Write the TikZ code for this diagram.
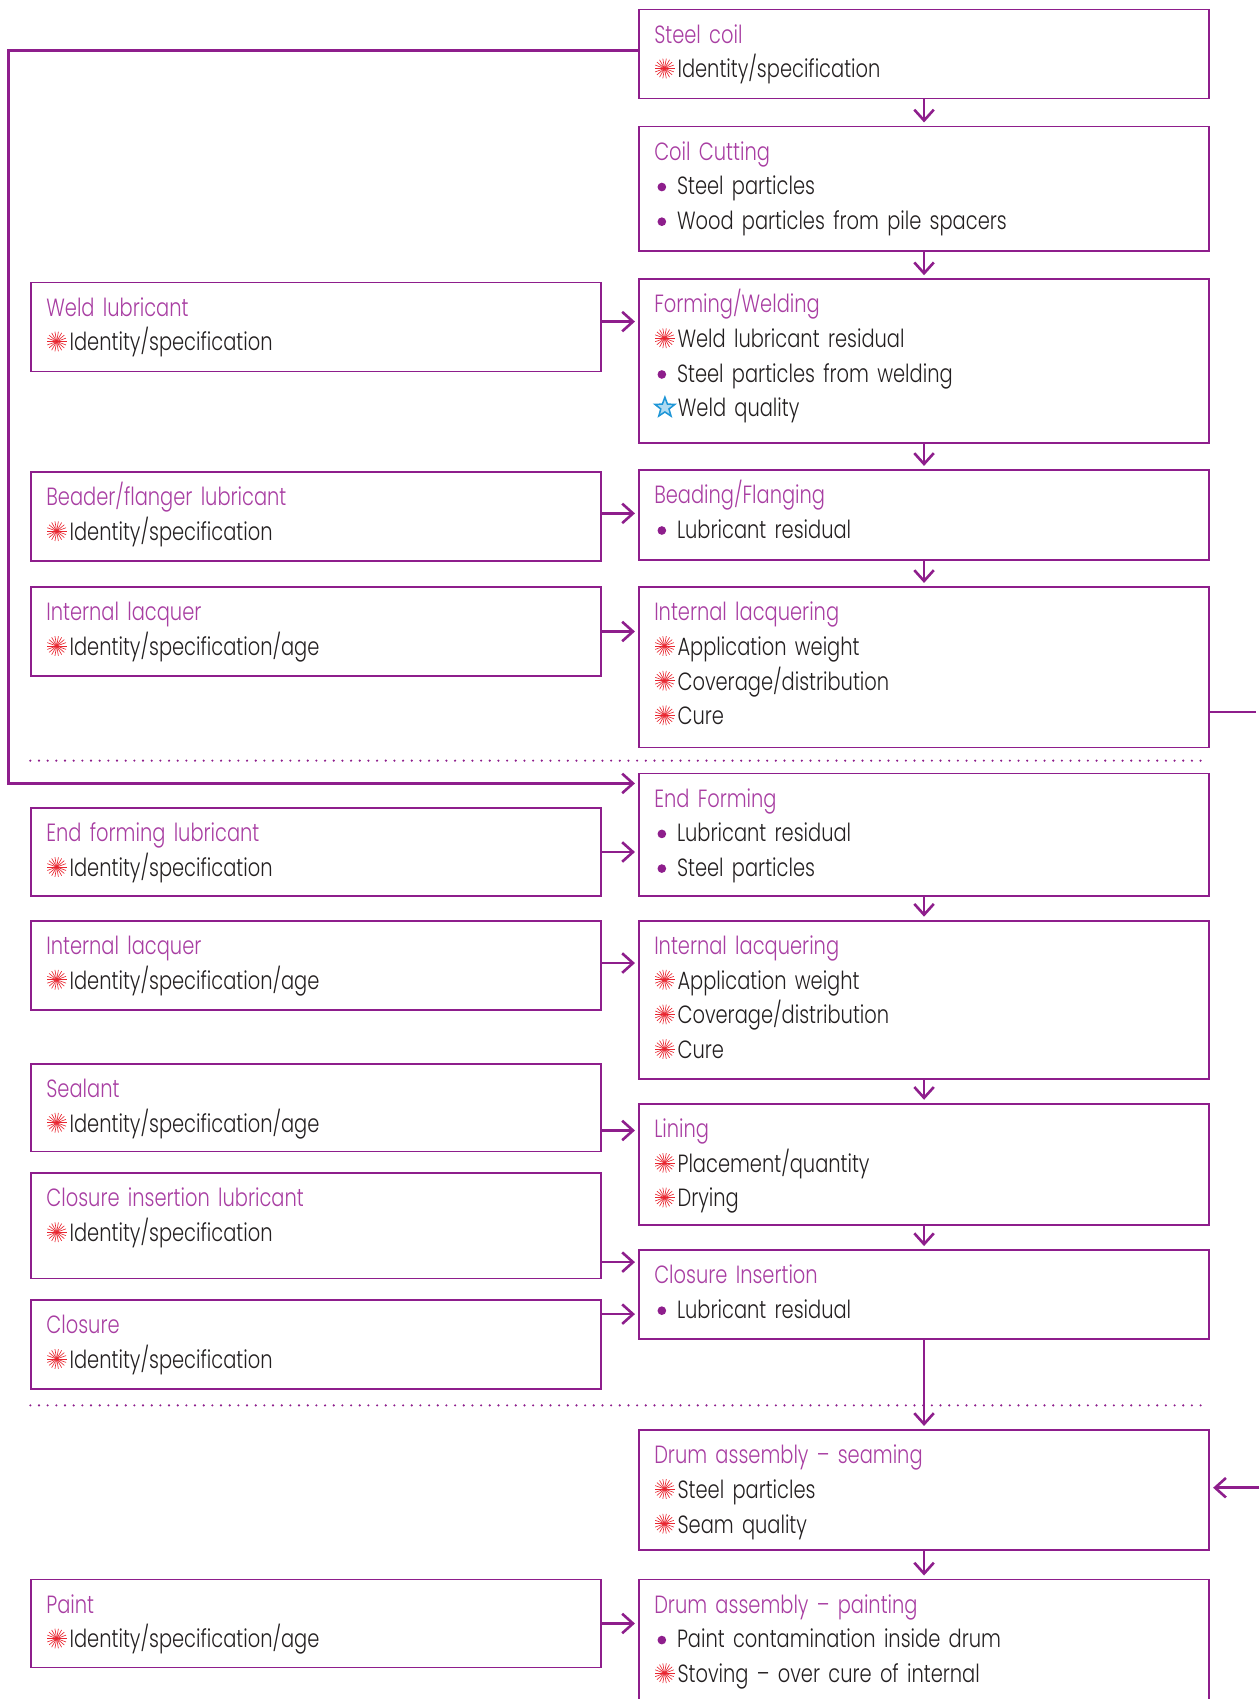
\documentclass[tikz,border=0pt]{standalone}
\usepackage{fontspec}
\setmainfont{Poppins}[UprightFont={* Light},FakeStretch=0.78]
\usetikzlibrary{arrows.meta}

\definecolor{lnpurple}{RGB}{142,30,140}
\definecolor{ttlpurple}{RGB}{168,62,162}
\definecolor{burstred}{RGB}{232,38,48}
\definecolor{starblue}{RGB}{30,150,215}
\definecolor{txtgray}{RGB}{35,31,32}

\newcommand{\stagetitle}[1]{\textcolor{ttlpurple}{#1}}
\newcommand{\burst}{\tikz[baseline=0pt]{\path (0,0) rectangle (10.5pt,8pt); \foreach \a in {0,20,...,340} \draw[burstred,line width=0.3pt] (4.5pt,4.3pt) -- ++(\a:4.6pt);}}
\newcommand{\dotit}{\tikz[baseline=0pt]{\path (0,0) rectangle (10.5pt,8pt); \fill[lnpurple] (3.5pt,3.6pt) circle (2pt);}}
\newcommand{\staritem}{\tikz[baseline=0pt]{\path (0,0) rectangle (10.5pt,8pt); \filldraw[draw=starblue,fill=starblue!35,line width=0.7pt,shift={(4.5pt,4.3pt)}] (90:4.8pt) -- (126:2pt) -- (162:4.8pt) -- (198:2pt) -- (234:4.8pt) -- (270:2pt) -- (306:4.8pt) -- (342:2pt) -- (18:4.8pt) -- (54:2pt) -- cycle;}}

\begin{document}
\begin{tikzpicture}[
	x=0.5pt,
	y=-0.5pt,
	>={Straight Barb[length=5pt,width=9pt]},
	stage/.style={
		rectangle,
		draw=lnpurple,
		line width=0.8pt,
		anchor=north west,
		align=left,
		text width=249pt,
		inner xsep=7pt,
		inner ysep=7.5pt,
		text height=8pt,
		text=txtgray,
		font=\fontsize{11.5}{16}\selectfont
	},
	supply/.style={
		stage
	},
	flow/.style={
		draw=lnpurple,
		line width=1.2pt,
		shorten >=1.5pt
	},
	sep/.style={
		draw=lnpurple,
		line width=1.1pt,
		line cap=round,
		dash pattern=on 0pt off 4pt
	},
]

\useasboundingbox (0,0) rectangle (1162,1568);

\node[stage, text depth=18pt] (stage_coil) at (589,8) {\stagetitle{Steel coil}\\\burst Identity/specification};
\node[stage, text depth=34.5pt] (stage_cut) at (589,116) {\stagetitle{Coil Cutting}\\\dotit Steel particles\\\dotit Wood particles from pile spacers};
\node[stage, text depth=52.5pt] (stage_form) at (589,257) {\stagetitle{Forming/Welding}\\\burst Weld lubricant residual\\\dotit Steel particles from welding\\\staritem Weld quality};
\node[stage, text depth=18.5pt] (stage_bead) at (589,433) {\stagetitle{Beading/Flanging}\\\dotit Lubricant residual};
\node[stage, text depth=51pt] (stage_lacq1) at (589,541) {\stagetitle{Internal lacquering}\\\burst Application weight\\\burst Coverage/distribution\\\burst Cure};

\node[stage, text depth=33.5pt] (stage_end) at (589,713) {\stagetitle{End Forming}\\\dotit Lubricant residual\\\dotit Steel particles};
\node[stage, text depth=50pt] (stage_lacq2) at (589,849) {\stagetitle{Internal lacquering}\\\burst Application weight\\\burst Coverage/distribution\\\burst Cure};
\node[stage, text depth=33pt] (stage_lining) at (589,1018) {\stagetitle{Lining}\\\burst Placement/quantity\\\burst Drying};
\node[stage, text depth=18pt] (stage_insert) at (589,1153) {\stagetitle{Closure Insertion}\\\dotit Lubricant residual};

\node[stage, text depth=32.5pt] (stage_seam) at (589,1319) {\stagetitle{Drum assembly -- seaming}\\\burst Steel particles\\\burst Seam quality};
\node[stage, text depth=52pt] (stage_paint) at (589,1457) {\stagetitle{Drum assembly -- painting}\\\dotit Paint contamination inside drum\\\burst Stoving -- over cure of internal};

\node[supply, text depth=18pt] (supply_weld) at (28,260) {\stagetitle{Weld lubricant}\\\burst Identity/specification};
\node[supply, text depth=18pt] (supply_bead) at (28,435) {\stagetitle{Beader/flanger lubricant}\\\burst Identity/specification};
\node[supply, text depth=18pt] (supply_lacq1) at (28,541) {\stagetitle{Internal lacquer}\\\burst Identity/specification/age};
\node[supply, text depth=17.5pt] (supply_end) at (28,745) {\stagetitle{End forming lubricant}\\\burst Identity/specification};
\node[supply, text depth=18pt] (supply_lacq2) at (28,849) {\stagetitle{Internal lacquer}\\\burst Identity/specification/age};
\node[supply, text depth=17.5pt] (supply_seal) at (28,981) {\stagetitle{Sealant}\\\burst Identity/specification/age};
\node[supply, text depth=25.5pt] (supply_closlub) at (28,1082) {\stagetitle{Closure insertion lubricant}\\\burst Identity/specification};
\node[supply, text depth=18pt] (supply_closure) at (28,1199) {\stagetitle{Closure}\\\burst Identity/specification};
\node[supply, text depth=17.5pt] (supply_paint) at (28,1457) {\stagetitle{Paint}\\\burst Identity/specification/age};

\coordinate (loop_turn) at (8,723);
\coordinate (exit_lacq) at (1162,657);
\coordinate (entry_seam) at (1162,1373);

\draw[sep] (28,702) -- (1115,702);
\draw[sep] (28,1297) -- (1115,1297);

\draw[flow,->] (stage_coil) -- (stage_cut);
\draw[flow,->] (stage_cut) -- (stage_form);
\draw[flow,->] (stage_form) -- (stage_bead);
\draw[flow,->] (stage_bead) -- (stage_lacq1);
\draw[flow,->] (stage_end) -- (stage_lacq2);
\draw[flow,->] (stage_lacq2) -- (stage_lining);
\draw[flow,->] (stage_lining) -- (stage_insert);
\draw[flow,->] (stage_insert) -- (stage_seam);
\draw[flow,->] (stage_seam) -- (stage_paint);

\draw[flow,->] ([yshift=2.5pt]supply_weld.east) -- ([yshift=2.5pt]supply_weld.east -| stage_form.west);
\draw[flow,->] ([yshift=1.5pt]supply_bead.east) -- ([yshift=1.5pt]supply_bead.east -| stage_bead.west);
\draw[flow,->] (supply_lacq1.east) -- (supply_lacq1.east -| stage_lacq1.west);
\draw[flow,->] (supply_end.east) -- (supply_end.east -| stage_end.west);
\draw[flow,->] ([yshift=1pt]supply_lacq2.east) -- ([yshift=1pt]supply_lacq2.east -| stage_lacq2.west);
\draw[flow,->] ([yshift=-10.5pt]supply_seal.east) -- ([yshift=-10.5pt]supply_seal.east -| stage_lining.west);
\draw[flow,->] ([yshift=-16.75pt]supply_closlub.east) -- ([yshift=-16.75pt]supply_closlub.east -| stage_insert.west);
\draw[flow,->] ([yshift=14pt]supply_closure.east) -- ([yshift=14pt]supply_closure.east -| stage_insert.west);
\draw[flow,->] (supply_paint.east) -- (supply_paint.east -| stage_paint.west);

\draw[flow,->] ([yshift=1.5pt]stage_coil.west) -| (loop_turn) -- (loop_turn -| stage_end.west);
\draw[flow] (exit_lacq -| stage_lacq1.east) -- (exit_lacq);
\draw[flow,->] (entry_seam) -- (entry_seam -| stage_seam.east);

\end{tikzpicture}
\end{document}
